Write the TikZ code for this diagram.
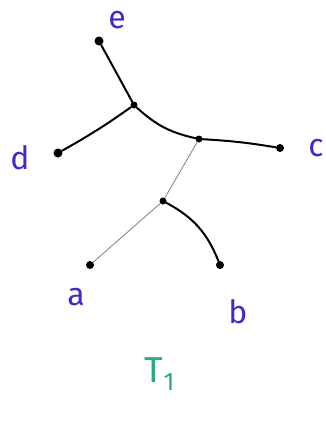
\documentclass[tikz,border=0pt]{standalone}
\usepackage{fontspec}
\setmainfont{Fira Sans}
\definecolor{lbl}{RGB}{70,40,200}
\definecolor{tcol}{RGB}{40,170,130}
\tikzset{
  vtx/.style={circle,fill=black,inner sep=0pt,minimum size=9pt},
  inner/.style={circle,fill=black,inner sep=0pt,minimum size=7pt},
  thick edge/.style={line width=2pt,black,line cap=round},
  thin edge/.style={line width=0.8pt,black!50},
  lab/.style={text=lbl,font=\fontsize{32}{34}\selectfont},
}
\begin{document}
\begin{tikzpicture}[x=1pt,y=-1pt]
\useasboundingbox (0,0) rectangle (326,428);
\fill[white] (0,0) rectangle (326,428);
\node[vtx] (e) at (99,41) {};
\node[inner] (n1) at (134,105) {};
\node[vtx] (d) at (58,153) {};
\node[inner] (n2) at (199,139) {};
\node[vtx,minimum size=8pt] (c) at (280,148) {};
\node[inner] (n3) at (163,201) {};
\node[vtx,minimum size=8pt] (a) at (90,265) {};
\node[vtx,minimum size=8pt] (b) at (220,265) {};
\node[lab] (le) at (117,20) {e};
\node[lab] (ld) at (20,158) {d};
\node[lab] (lc) at (316,148) {c};
\node[lab] (la) at (76,297) {a};
\node[lab] (lb) at (238,312) {b};
\node[text=tcol,font=\fontsize{36}{38}\selectfont] (t1) at (160,374) {T\textsubscript{1}};
\draw[thick edge] (e) -- (n1);
\draw[thick edge] (n1) to[bend left=3] (d);
\draw[thick edge] (n1) to[bend right=15] (n2);
\draw[thick edge] (n2) to[bend left=3] (c);
\draw[thin edge] (n2) -- (n3);
\draw[thin edge] (n3) -- (a);
\draw[thick edge] (n3) to[bend left=20] (b);
\end{tikzpicture}
\end{document}
